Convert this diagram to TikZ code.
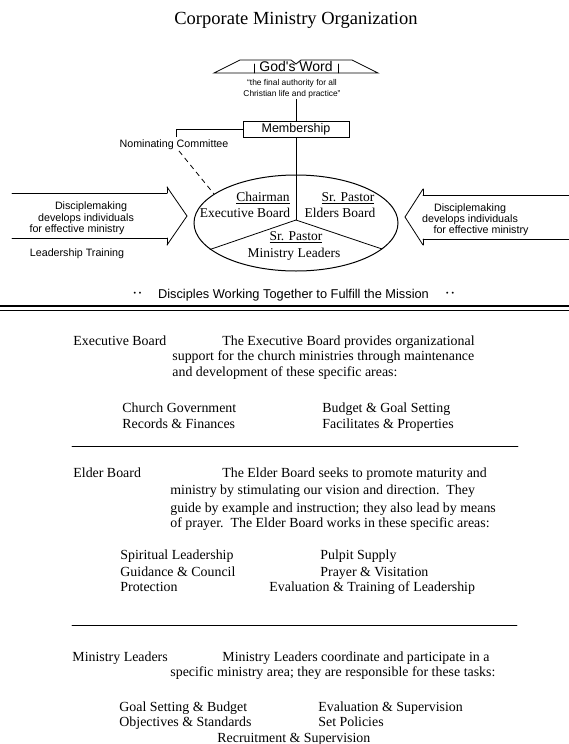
\documentclass[tikz,border=0pt]{standalone}
\usepackage{fontspec}
\setmainfont{Liberation Serif}
\newfontfamily\labelfont{Liberation Sans}
\usepackage{tkz-euclide}
\usetikzlibrary{arrows, calc}

\tikzset{
  bodytext/.style={anchor=base west, inner sep=0pt, font=\fontsize{13.9}{16}\selectfont},
  ovaltext/.style={anchor=base, inner sep=0pt, font=\fontsize{13.5}{15}\selectfont},
  sanstext/.style={anchor=base, inner sep=0pt, font=\labelfont\fontsize{10.7}{12}\selectfont},
}

\begin{document}
\begin{tikzpicture}[x=1pt,y=-1pt,line width=0.8pt]
    \useasboundingbox (0,0) rectangle (569,744);
    \tkzSetUpLine[line width=0.8pt, color=black]

    \node[anchor=base, inner sep=0pt, font=\fontsize{18.5}{20}\selectfont] (title) at (296,24) {Corporate Ministry Organization};

    % the book
    \tkzDefPoint(214,73){k_1}
    \tkzDefPoint(240,60){k_2}
    \tkzDefPoint(291,60){k_3}
    \tkzDefPoint(296,64){k_4}
    \tkzDefPoint(301,60){k_5}
    \tkzDefPoint(352,60){k_6}
    \tkzDefPoint(378,73){k_7}
    \tkzDefPoint(254,64){k_8}
    \tkzDefPoint(254,73){k_9}
    \tkzDefPoint(338,64){k_10}
    \tkzDefPoint(338,73){k_11}
    \draw (k_1) -- (k_2) -- (k_3) -- (k_4) -- (k_5) -- (k_6) -- (k_7) -- cycle;
    \tkzDrawSegments(k_8,k_9 k_10,k_11)
    \node[anchor=base, inner sep=0pt, font=\labelfont\fontsize{14}{15}\selectfont] (word) at (296,71) {God's Word};
    \node[anchor=base, inner sep=0pt, font=\labelfont\fontsize{8.4}{9}\selectfont] (quote_1) at (292,85) {“the final authority for all};
    \node[anchor=base, inner sep=0pt, font=\labelfont\fontsize{8.4}{9}\selectfont] (quote_2) at (292,96) {Christian life and practice”};

    % membership
    \tkzDefPoint(296,99){m_1}
    \tkzDefPoint(296,220){hub}
    \node[draw, minimum width=106pt, minimum height=16pt, inner sep=0pt,
          font=\labelfont\fontsize{12.5}{14}\selectfont] (member) at (296,129) {Membership};
    \draw (m_1) -- (member.north);
    \draw (member.south) -- (hub);

    \tkzDefPoint(176,137){n_1}
    \tkzDefPoint(179,151){n_2}
    \tkzDefPoint(214,194){n_3}
    \draw (member.west) -| (n_1);
    \node[sanstext] (nomin) at (174,147) {Nominating Committee};
    \draw[dash pattern=on 5pt off 4pt] (n_2) -- (n_3);

    % the oval
    \tkzDefPoint(296,223){o}
    \tkzDefPoint(210,249.5){e_1}
    \tkzDefPoint(382,249){e_2}
    \draw[line width=1pt] (o) ellipse [x radius=102, y radius=48];
    \tkzDrawSegments(hub,e_1 hub,e_2)
    \node[ovaltext] (chair) at (263,201.5) {\underline{Chairman}};
    \node[ovaltext] (exec) at (245,217.5) {Executive Board};
    \node[ovaltext] (pastor_1) at (348,201.5) {\underline{Sr. Pastor}};
    \node[ovaltext] (elders) at (340,217.5) {Elders Board};
    \node[ovaltext] (pastor_2) at (296,240.5) {\underline{Sr. Pastor}};
    \node[ovaltext] (leaders) at (294,257.5) {Ministry Leaders};

    % left arrow
    \tkzDefPoint(12,193){l_1}
    \tkzDefPoint(167,193){l_2}
    \tkzDefPoint(167,187){l_3}
    \tkzDefPoint(187,216){l_4}
    \tkzDefPoint(167,245){l_5}
    \tkzDefPoint(167,238){l_6}
    \tkzDefPoint(12,238){l_7}
    \tkzDrawSegments(l_1,l_2 l_2,l_3 l_3,l_4 l_4,l_5 l_5,l_6 l_6,l_7)
    \node[sanstext] (make_1) at (91,209) {Disciplemaking};
    \node[sanstext] (make_2) at (86,221) {develops individuals};
    \node[sanstext] (make_3) at (77,232) {for effective ministry};
    \node[sanstext] (train) at (77,256) {Leadership Training};

    % right arrow
    \tkzDefPoint(569,195){r_1}
    \tkzDefPoint(423,195){r_2}
    \tkzDefPoint(423,189){r_3}
    \tkzDefPoint(405,217){r_4}
    \tkzDefPoint(423,245){r_5}
    \tkzDefPoint(423,239){r_6}
    \tkzDefPoint(569,239){r_7}
    \tkzDrawSegments(r_1,r_2 r_2,r_3 r_3,r_4 r_4,r_5 r_5,r_6 r_6,r_7)
    \node[sanstext] (make_4) at (470,211) {Disciplemaking};
    \node[sanstext] (make_5) at (470,222) {develops individuals};
    \node[sanstext] (make_6) at (481,233) {for effective ministry};

    % mission line
    \node[anchor=base, inner sep=0pt, font=\labelfont\fontsize{12.8}{14}\selectfont] (mission) at (293.5,298) {Disciples Working Together to Fulfill the Mission};
    \node[inner sep=0pt, font=\labelfont\fontsize{7}{7}\selectfont] (dots_1) at (137.5,294) {•\hspace{3pt}•};
    \node[inner sep=0pt, font=\labelfont\fontsize{7}{7}\selectfont] (dots_2) at (450,294) {•\hspace{3pt}•};
    \tkzDefPoint(0,306){d_1}
    \tkzDefPoint(569,306){d_2}
    \tkzDefPoint(0,310){d_3}
    \tkzDefPoint(569,310){d_4}
    \draw[line width=1.6pt] (d_1) -- (d_2);
    \draw[line width=0.6pt] (d_3) -- (d_4);

    % executive board
    \node[bodytext] (exec_t) at (73,345.5) {Executive Board};
    \node[bodytext] (exec_1) at (222,345.5) {The Executive Board provides organizational};
    \node[bodytext] (exec_2) at (172,360.5) {support for the church ministries through maintenance};
    \node[bodytext] (exec_3) at (172,376.5) {and development of these specific areas:};
    \node[bodytext] (exec_4) at (122,412.5) {Church Government};
    \node[bodytext] (exec_5) at (122,428.5) {Records \& Finances};
    \node[bodytext] (exec_6) at (322,412.5) {Budget \& Goal Setting};
    \node[bodytext] (exec_7) at (322,428.5) {Facilitates \& Properties};
    \tkzDefPoint(72,446){s_1}
    \tkzDefPoint(518,446){s_2}
    \tkzDrawSegments(s_1,s_2)

    % elder board
    \node[bodytext] (elder_t) at (73,477.5) {Elder Board};
    \node[bodytext] (elder_1) at (222,477.5) {The Elder Board seeks to promote maturity and};
    \node[bodytext] (elder_2) at (170,494.5) {ministry by stimulating our vision and direction.\ \ They};
    \node[bodytext] (elder_3) at (170,512.5) {guide by example and instruction; they also lead by means};
    \node[bodytext] (elder_4) at (170,527.5) {of prayer.\ \ The Elder Board works in these specific areas:};
    \node[bodytext] (elder_5) at (120,559.5) {Spiritual Leadership};
    \node[bodytext] (elder_6) at (120,576.5) {Guidance \& Council};
    \node[bodytext] (elder_7) at (120,591.5) {Protection};
    \node[bodytext] (elder_8) at (320,559.5) {Pulpit Supply};
    \node[bodytext] (elder_9) at (320,576.5) {Prayer \& Visitation};
    \node[bodytext] (elder_10) at (269,591.5) {Evaluation \& Training of Leadership};
    \tkzDefPoint(72,625){s_3}
    \tkzDefPoint(517,625){s_4}
    \tkzDrawSegments(s_3,s_4)

    % ministry leaders
    \node[bodytext] (lead_t) at (72,661.5) {Ministry Leaders};
    \node[bodytext] (lead_1) at (222,661.5) {Ministry Leaders coordinate and participate in a};
    \node[bodytext] (lead_2) at (170,676.5) {specific ministry area; they are responsible for these tasks:};
    \node[bodytext] (lead_3) at (119,711.5) {Goal Setting \& Budget};
    \node[bodytext] (lead_4) at (119,726.5) {Objectives \& Standards};
    \node[bodytext] (lead_5) at (318,711.5) {Evaluation \& Supervision};
    \node[bodytext] (lead_6) at (318,726.5) {Set Policies};
    \node[bodytext] (lead_7) at (217,742) {Recruitment \& Supervision};
\end{tikzpicture}
\end{document}
